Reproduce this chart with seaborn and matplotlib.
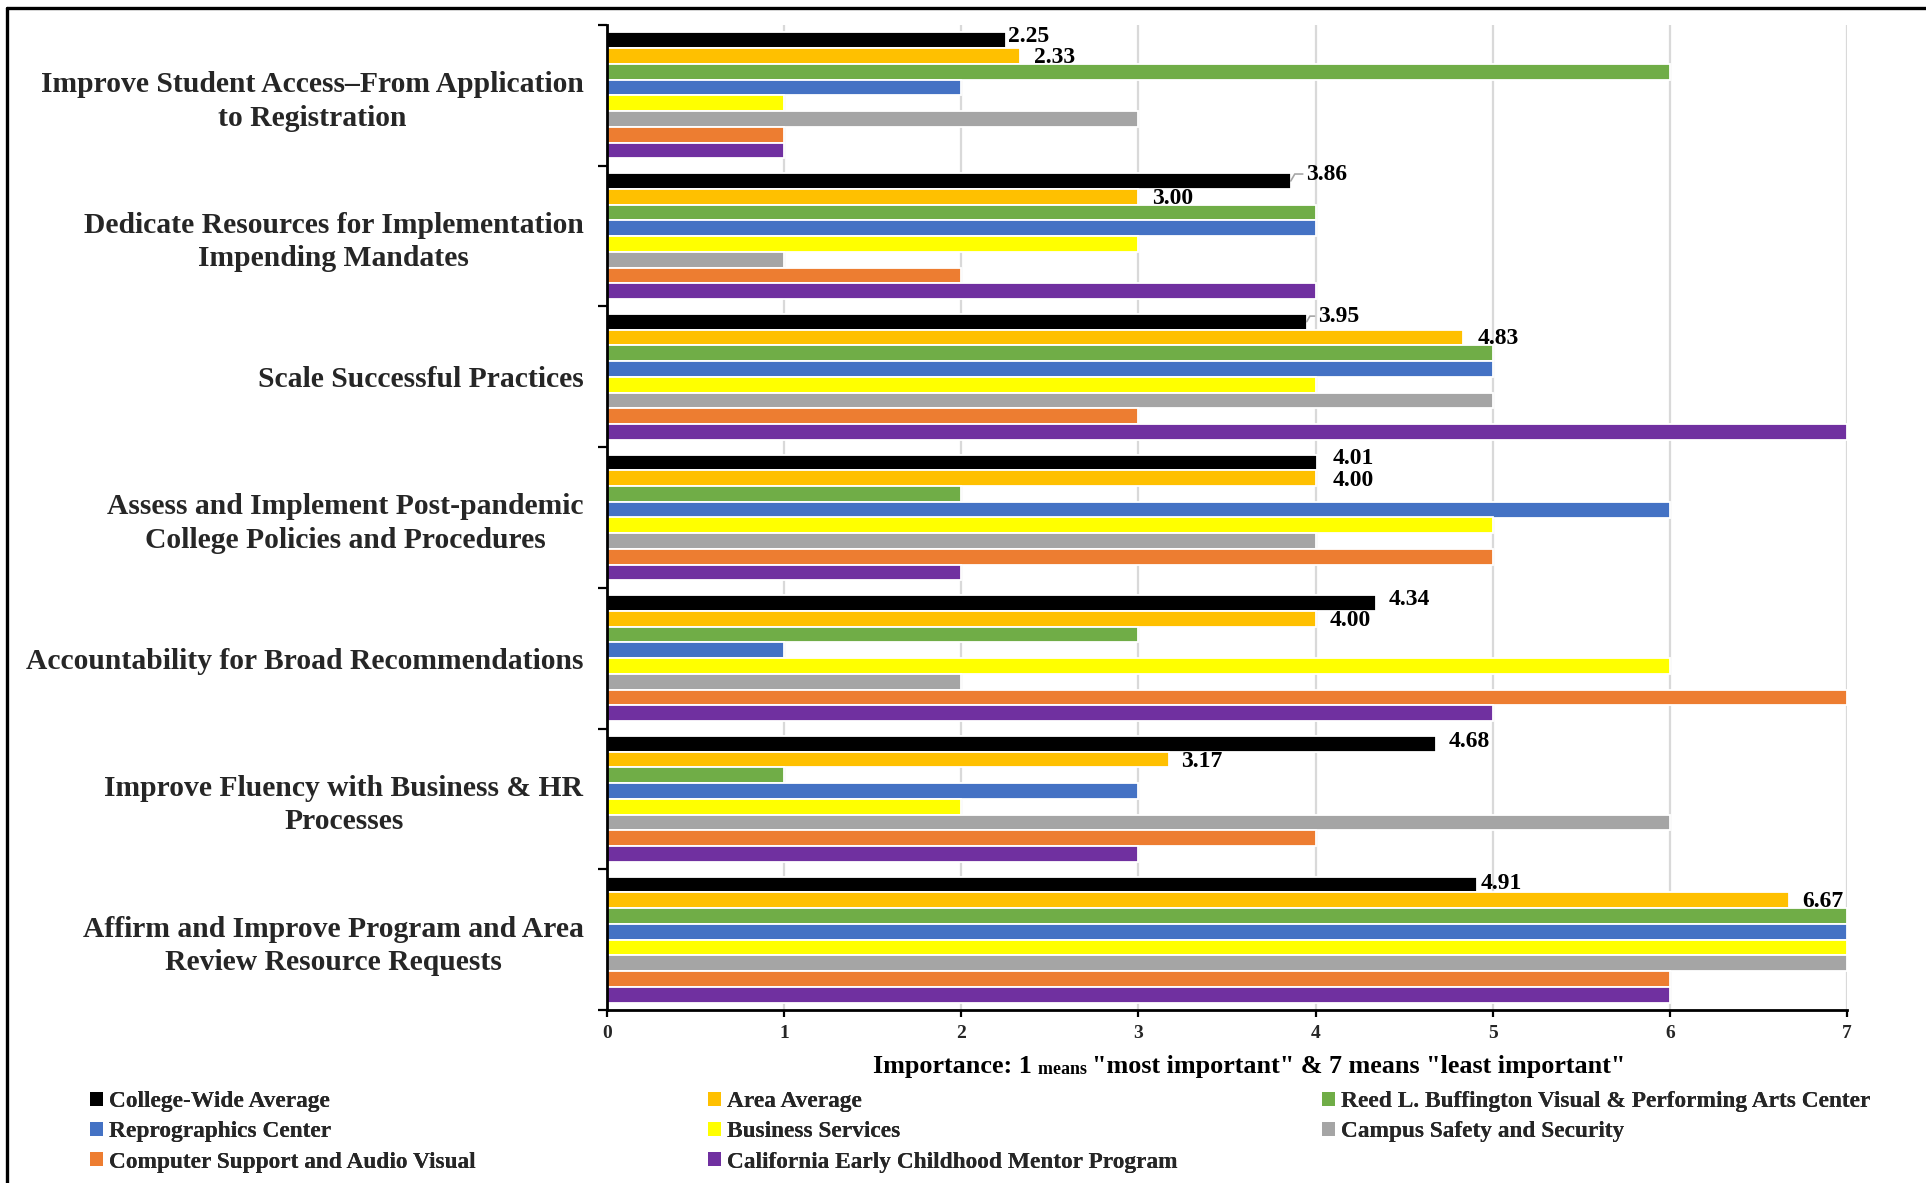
import numpy as np
import pandas as pd
import matplotlib
matplotlib.use("Agg")
import matplotlib.pyplot as plt
from matplotlib.lines import Line2D
from matplotlib.patches import Patch
from matplotlib.offsetbox import TextArea, HPacker, AnchoredOffsetbox
import seaborn as sns

# ---- data -----------------------------------------------------------------
priorities = [
    "Improve Student Access\u2013From Application\nto Registration",
    "Dedicate Resources for Implementation\nImpending Mandates",
    "Scale Successful Practices",
    "Assess and Implement Post-pandemic\nCollege Policies and Procedures",
    "Accountability for Broad Recommendations",
    "Improve Fluency with Business & HR\nProcesses",
    "Affirm and Improve Program and Area\nReview Resource Requests",
]

series_names = [
    "College-Wide Average",
    "Area Average",
    "Reed L. Buffington Visual & Performing Arts Center",
    "Reprographics Center",
    "Business Services",
    "Campus Safety and Security",
    "Computer Support and Audio Visual",
    "California Early Childhood Mentor Program",
]

college_wide_avg = [2.25, 3.86, 3.95, 4.01, 4.34, 4.68, 4.91]
area_avg = [2.33, 3.00, 4.83, 4.00, 4.00, 3.17, 6.67]
buffington = [6, 4, 5, 2, 3, 1, 7]
reprographics = [2, 4, 5, 6, 1, 3, 7]
business_services = [1, 3, 4, 5, 6, 2, 7]
campus_safety = [3, 1, 5, 4, 2, 6, 7]
computer_support = [1, 2, 3, 5, 7, 4, 6]
early_childhood = [1, 4, 7, 2, 5, 3, 6]

series_values = [college_wide_avg, area_avg, buffington, reprographics,
                 business_services, campus_safety, computer_support,
                 early_childhood]

colors = ["#000000", "#FFC000", "#70AD47", "#4472C4",
          "#FFFF00", "#A5A5A5", "#ED7D31", "#7030A0"]

x_ticks = [0, 1, 2, 3, 4, 5, 6, 7]

df = pd.DataFrame(
    [(p, s, v[i]) for s, v in zip(series_names, series_values)
     for i, p in enumerate(priorities)],
    columns=["priority", "series", "score"],
)

# ---- style ----------------------------------------------------------------
sns.set_style("white")
plt.rcParams["font.family"] = ["Liberation Serif", "DejaVu Serif"]
plt.rcParams["font.weight"] = "bold"

W, H = 1926, 1183
fig = plt.figure(figsize=(W / 100, H / 100), dpi=100)
ax_left, ax_right, ax_top, ax_bottom = 607, 1847, 25, 1010
ax = fig.add_axes([ax_left / W, 1 - ax_bottom / H,
                   (ax_right - ax_left) / W, (ax_bottom - ax_top) / H])

sns.barplot(data=df, x="score", y="priority", hue="series",
            order=priorities, hue_order=series_names, palette=colors,
            orient="h", width=0.895, saturation=1, errorbar=None,
            edgecolor="white", linewidth=1.3, legend=False, ax=ax, zorder=2)

# ---- axes -----------------------------------------------------------------
ax.set_xlim(0, 7)
ax.set_ylim(6.5, -0.5)
ax.set_xticks(x_ticks)
ax.set_xticklabels([str(t) for t in x_ticks], fontsize=14, fontweight="bold")
ax.tick_params(axis="x", length=5, width=1.6, direction="out", pad=6,
               color="black", bottom=True)

ax.set_yticks(np.arange(-0.5, len(priorities), 1.0))
ax.set_yticklabels([])
ax.set_yticks(np.arange(len(priorities)), minor=True)
ax.set_yticklabels(priorities, minor=True, fontsize=21.3, fontweight="bold",
                   multialignment="center", linespacing=1.3)
ax.tick_params(axis="y", which="major", length=6.5, width=1.6,
               direction="out", color="black", left=True)
ax.tick_params(axis="y", which="minor", length=0, pad=17)

ax.set_xlabel("")
ax.set_ylabel("")
ax.xaxis.grid(True, color="#D9D9D9", linewidth=1.6, zorder=0)
ax.yaxis.grid(False)
ax.set_axisbelow(True)
for side in ("top", "right"):
    ax.spines[side].set_visible(False)
for side in ("left", "bottom"):
    ax.spines[side].set_color("black")
    ax.spines[side].set_linewidth(2.0)
    ax.spines[side].set_zorder(3)

# ---- value labels on the two average series --------------------------------
# (dx, dy) offsets in points; None marks a label drawn with a leader line
label_offsets = {
    0: [(2, 3), None, None, (11, 3), (9, 2.5), (9, 2), (3, 1)],
    1: [(10, -1), (10, -1), (11, -1), (12, -1.5), (10, -1.5), (9, -1.5), (10, -1)],
}
leader_offsets = {1: (11, 5), 2: (8, 4)}
for hue_idx in (0, 1):
    cont = ax.containers[hue_idx]
    vals = series_values[hue_idx]
    for i, bar in enumerate(cont.patches):
        v = vals[i]
        yc = bar.get_y() + bar.get_height() / 2
        off = label_offsets[hue_idx][i]
        if off is None:
            ax.annotate(f"{v:.2f}", xy=(v, yc), xytext=leader_offsets[i],
                        textcoords="offset points", ha="left", va="center",
                        fontsize=17, fontweight="bold", color="black",
                        arrowprops=dict(arrowstyle="-", color="#A6A6A6",
                                        lw=1.2, shrinkA=0, shrinkB=0,
                                        connectionstyle="angle,angleA=0,angleB=60,rad=0"),
                        zorder=5)
        else:
            ax.annotate(f"{v:.2f}", xy=(v, yc), xytext=off,
                        textcoords="offset points", ha="left", va="center",
                        fontsize=17, fontweight="bold", color="black",
                        zorder=5)

# ---- x-axis title with mixed sizes -----------------------------------------
title_parts = [("Importance: 1 ", 18.8), ("means ", 13),
               ("\"most important\" & 7 means \"least important\"", 18.8)]
pack = HPacker(children=[TextArea(t, textprops=dict(fontsize=fs,
                                                    fontweight="bold",
                                                    color="black"))
                         for t, fs in title_parts],
               align="baseline", pad=0, sep=0)
title_box = AnchoredOffsetbox(loc="center", child=pack, pad=0, borderpad=0,
                              frameon=False,
                              bbox_to_anchor=(1249 / W, 1 - 1067 / H),
                              bbox_transform=fig.transFigure)
fig.add_artist(title_box)

# ---- legend: three columns, filled row by row ------------------------------
handles = [Patch(facecolor=c, edgecolor="none") for c in colors]
legend_cols = [[0, 3, 6], [1, 4, 7], [2, 5]]
legend_x = [90, 708, 1322]
for col_idx, members in enumerate(legend_cols):
    leg = fig.legend([handles[m] for m in members],
                     [series_names[m] for m in members],
                     loc="upper left",
                     bbox_to_anchor=(legend_x[col_idx] / W, 1 - 1091 / H),
                     bbox_transform=fig.transFigure, frameon=False,
                     prop=dict(weight="bold", size=16.8),
                     handlelength=0.55, handleheight=0.55, handletextpad=0.25,
                     labelspacing=0.4, borderpad=0, borderaxespad=0)
    fig.add_artist(leg)

# ---- outer frame (top and left edges) --------------------------------------
fig.add_artist(Line2D([7 / W, 1], [1 - 8 / H, 1 - 8 / H],
                      transform=fig.transFigure, color="black", lw=2.4))
fig.add_artist(Line2D([7 / W, 7 / W], [0, 1 - 8 / H],
                      transform=fig.transFigure, color="black", lw=2.4))

fig.savefig("out.png", dpi=100, facecolor="white")
